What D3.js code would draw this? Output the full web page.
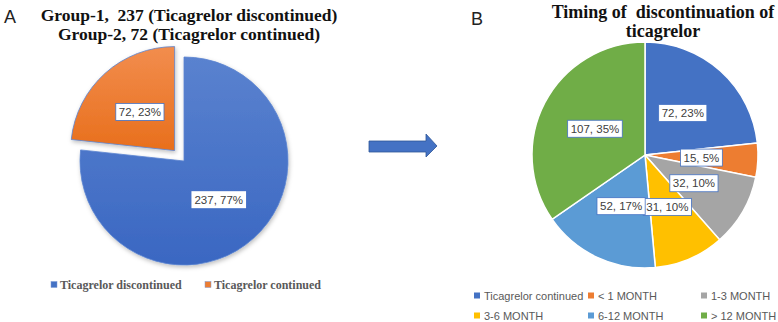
<!DOCTYPE html>
<html lang="en">
    <head>
        <title>Ticagrelor pies</title>
        <script src="https://d3js.org/d3.v7.min.js"></script>
        <style>
            body { margin: 0; background: #ffffff; }
            text { white-space: pre; }
        </style>
    </head>
    <body>
    <div id="mainDiv"></div>

        <script type="text/javascript">
            // values
            const groupLabels = ['Ticagrelor discontinued', 'Ticagrelor continued']
            const groupValues = [237, 72]
            const groupColors = ['#4472C4', '#ED7D31']

            const timingLabels = ['Ticagrelor continued', '< 1 MONTH', '1-3 MONTH', '3-6 MONTH', '6-12 MONTH', '> 12 MONTH']
            const timingValues = [72, 15, 32, 31, 52, 107]
            const timingColors = ['#4472C4', '#ED7D31', '#A5A5A5', '#FFC000', '#5B9BD5', '#70AD47']

            const width = 778
            const height = 322

            const svg = d3.select('#mainDiv').append('svg')
                .attr('width', width)
                .attr('height', height)

            const defs = svg.append('defs')
            const gradA = [['gBlue', '#5a82cf', '#3a67c2'], ['gOrange', '#f28d4e', '#e86f1c']]
            gradA.forEach(([id, c1, c2]) => {
                const g = defs.append('linearGradient').attr('id', id)
                    .attr('x1', 0).attr('y1', 0).attr('x2', 0).attr('y2', 1)
                g.append('stop').attr('offset', '0%').attr('stop-color', c1)
                g.append('stop').attr('offset', '100%').attr('stop-color', c2)
            })
            const shadow = defs.append('filter').attr('id', 'shadow')
                .attr('x', '-20%').attr('y', '-20%').attr('width', '140%').attr('height', '140%')
            shadow.append('feDropShadow').attr('dx', 1).attr('dy', 2)
                .attr('stdDeviation', 2).attr('flood-color', '#000').attr('flood-opacity', 0.25)

            const pie = d3.pie().sort(null).value(d => d)
            const serif = 'Liberation Serif, Times New Roman, serif'
            const sans = 'Liberation Sans, Arial, sans-serif'

            function total(arr) { return d3.sum(arr) }
            function labelText(v, arr) { return v + ', ' + Math.round(v / total(arr) * 100) + '%' }

            function boxLabel(g, x, y, txt, border) {
                const lg = g.append('g').attr('transform', `translate(${x},${y})`)
                const rect = lg.append('rect')
                const t = lg.append('text')
                    .attr('text-anchor', 'middle')
                    .attr('dy', '0.35em')
                    .attr('font-family', sans)
                    .attr('font-size', 11.5)
                    .attr('fill', '#404040')
                    .text(txt)
                const w = t.node().getComputedTextLength() + 6
                rect.attr('x', -w / 2).attr('y', -8.5).attr('width', w).attr('height', 17)
                    .attr('fill', '#ffffff')
                    .attr('stroke', border ? '#4472C4' : 'none')
                    .attr('stroke-width', 0.8)
            }

            // ---------- panel A ----------
            svg.append('text').attr('x', 4).attr('y', 23)
                .attr('font-family', sans).attr('font-size', 18).attr('fill', '#222')
                .text('A')

            const titleA = ['Group-1,  237 (Ticagrelor discontinued)', 'Group-2, 72 (Ticagrelor continued)']
            svg.selectAll('.titleA').data(titleA).enter().append('text')
                .attr('x', 189).attr('y', (d, i) => 21 + i * 19)
                .attr('text-anchor', 'middle')
                .attr('font-family', serif).attr('font-weight', 'bold').attr('font-size', 17.5)
                .attr('fill', '#111')
                .text(d => d)

            const rA = 104
            const arcA = d3.arc().innerRadius(0).outerRadius(rA)
            const gA = svg.append('g').attr('transform', 'translate(184,161)')
            const arcsA = pie(groupValues)
            const explode = 14

            gA.selectAll('path').data(arcsA).enter().append('path')
                .attr('transform', (d, i) => {
                    if (i === 0) return null
                    const a = (d.startAngle + d.endAngle) / 2
                    return `translate(${Math.sin(a) * explode},${-Math.cos(a) * explode})`
                })
                .attr('d', arcA)
                .attr('fill', (d, i) => i === 0 ? 'url(#gBlue)' : 'url(#gOrange)')
                .attr('stroke', '#5b84d0')
                .attr('stroke-width', 0.8)
                .attr('filter', 'url(#shadow)')

            arcsA.forEach((d, i) => {
                const c = arcA.centroid(d)
                let off = [0, 0]
                if (i === 1) {
                    const a = (d.startAngle + d.endAngle) / 2
                    off = [Math.sin(a) * explode, -Math.cos(a) * explode]
                }
                boxLabel(gA, c[0] + off[0], c[1] + off[1], labelText(groupValues[i], groupValues), i === 1)
            })

            const legA = svg.append('g').attr('transform', 'translate(0,285)')
            const legAx = [51, 205]
            groupLabels.forEach((lab, i) => {
                legA.append('rect').attr('x', legAx[i]).attr('y', -3.5).attr('width', 6).attr('height', 6)
                    .attr('fill', groupColors[i]).attr('stroke', '#7f9bd6').attr('stroke-width', 0.5)
                legA.append('text').attr('x', legAx[i] + 9).attr('y', 4)
                    .attr('font-family', serif).attr('font-weight', 'bold').attr('font-size', 12)
                    .attr('fill', '#595959')
                    .text(lab)
            })

            // ---------- arrow ----------
            const arrow = d3.path()
            arrow.moveTo(369, 141); arrow.lineTo(426, 141); arrow.lineTo(426, 134)
            arrow.lineTo(437, 146); arrow.lineTo(426, 157); arrow.lineTo(426, 152)
            arrow.lineTo(369, 152); arrow.closePath()
            svg.append('path').attr('d', arrow.toString())
                .attr('fill', '#4472C4').attr('stroke', '#2f5597').attr('stroke-width', 0.8)

            // ---------- panel B ----------
            svg.append('text').attr('x', 471).attr('y', 25)
                .attr('font-family', sans).attr('font-size', 18).attr('fill', '#222')
                .text('B')

            const titleB = ['Timing of  discontinuation of', 'ticagrelor']
            svg.selectAll('.titleB').data(titleB).enter().append('text')
                .attr('x', 663).attr('y', (d, i) => 18 + i * 19)
                .attr('text-anchor', 'middle')
                .attr('font-family', serif).attr('font-weight', 'bold').attr('font-size', 18)
                .attr('fill', '#111')
                .text(d => d)

            const rB = 113
            const arcB = d3.arc().innerRadius(0).outerRadius(rB)
            const gB = svg.append('g').attr('transform', 'translate(645,155)')
            const arcsB = pie(timingValues)

            gB.selectAll('path').data(arcsB).enter().append('path')
                .attr('d', arcB)
                .attr('fill', (d, i) => timingColors[i])
                .attr('stroke', '#ffffff')
                .attr('stroke-width', 1.5)

            arcsB.forEach((d, i) => {
                const c = arcB.centroid(d)
                boxLabel(gB, c[0], c[1], labelText(timingValues[i], timingValues), true)
            })

            const legB = svg.append('g')
            const legBx = [474, 588, 701]
            const legBy = [296, 316]
            timingLabels.forEach((lab, i) => {
                const x = legBx[i % 3]
                const y = legBy[Math.floor(i / 3)]
                legB.append('rect').attr('x', x).attr('y', y - 3.5).attr('width', 6).attr('height', 6)
                    .attr('fill', timingColors[i])
                legB.append('text').attr('x', x + 10).attr('y', y + 4)
                    .attr('font-family', sans).attr('font-size', 11)
                    .attr('fill', '#595959')
                    .text(lab)
            })
        </script>
    </body>
</html>
